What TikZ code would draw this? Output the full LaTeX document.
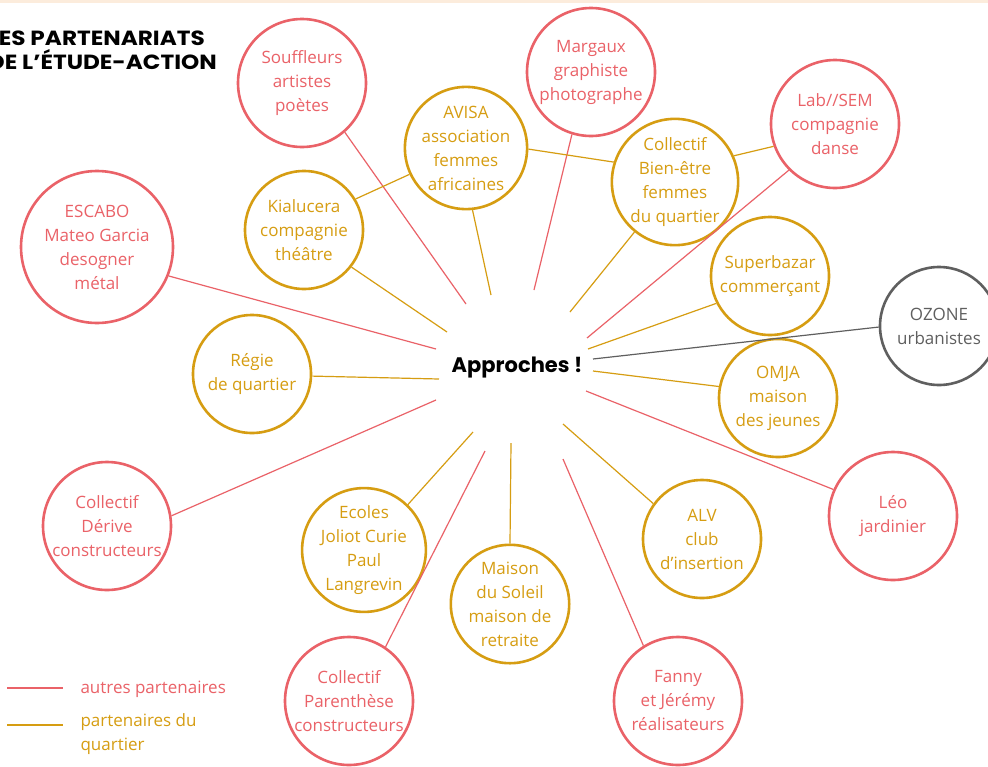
\documentclass[tikz,border=0pt]{standalone}
\usepackage{fontspec}
\setmainfont{Open Sans}
\newfontfamily\headfont{Poppins}
\newfontfamily\titlefont[FakeStretch=1.13]{Poppins}
\definecolor{cred}{RGB}{234,98,104}
\definecolor{cgold}{RGB}{214,157,18}
\definecolor{cgray}{RGB}{95,95,95}
\definecolor{cbeige}{RGB}{252,236,220}
\tikzset{
  partner/.style={circle, draw, line width=2.6pt, inner sep=0pt, align=center,
    font=\fontsize{17}{24}\selectfont},
  autre/.style={partner, draw=cred, text=cred, minimum size=128pt},
  quartier/.style={partner, draw=cgold, text=cgold, minimum size=118pt},
  externe/.style={partner, draw=cgray, text=cgray, minimum size=118pt},
  redlink/.style={draw=cred, line width=1.2pt},
  goldlink/.style={draw=cgold, line width=1.2pt},
  graylink/.style={draw=cgray, line width=1.2pt},
  legendtext/.style={anchor=west, align=left, font=\fontsize{17}{24}\selectfont},
  titletext/.style={anchor=base east, inner sep=0pt, font=\titlefont\bfseries\fontsize{20.5}{24}\selectfont},
}
\begin{document}
\begin{tikzpicture}[x=1pt,y=-1pt]
\useasboundingbox (0,0) rectangle (988,766);
\clip (0,0) rectangle (988,766);
\fill[white] (0,0) rectangle (988,766);
\fill[cbeige] (0,0) rectangle (988,2.5);

% title
\node[titletext] (title1) at (205,45) {LES PARTENARIATS};
\node[titletext] (title2) at (217,69) {DE L’ÉTUDE-ACTION};

% centre
\node[font=\headfont\bfseries\fontsize{21}{24}\selectfont] (centre) at (517,368) {Approches !};

% partners
\node[autre] (souf) at (302,83) {Souffleurs\\artistes\\poètes};
\node[autre] (marg) at (591,72) {Margaux\\graphiste\\photographe};
\node[quartier] (avisa) at (466,148) {AVISA\\association\\femmes\\africaines};
\node[quartier] (kial) at (304,230) {Kialucera\\compagnie\\théâtre};
\node[quartier] (bien) at (675,182) {Collectif\\Bien-être\\femmes\\du quartier};
\node[autre] (lab) at (835,124) {Lab//SEM\\compagnie\\danse};
\node[autre, minimum size=152pt] (escabo) at (97,247) {ESCABO\\Mateo Garcia\\desogner\\métal};
\node[quartier] (super) at (770,276) {Superbazar\\commerçant};
\node[externe] (ozone) at (939,326) {OZONE\\urbanistes};
\node[quartier] (regie) at (252,374) {Régie\\de quartier};
\node[quartier] (omja) at (778,398) {OMJA\\maison\\des jeunes};
\node[autre] (derive) at (107,526) {Collectif\\Dérive\\constructeurs};
\node[autre] (leo) at (893,516) {Léo\\jardinier};
\node[quartier] (ecoles) at (364,550) {Ecoles\\Joliot Curie\\Paul\\Langrevin};
\node[quartier] (alv) at (702,539) {ALV\\club\\d’insertion};
\node[quartier] (maison) at (510,604) {Maison\\du Soleil\\maison de\\retraite};
\node[autre] (paren) at (349,701) {Collectif\\Parenthèse\\constructeurs};
\node[autre] (fanny) at (678,701) {Fanny\\et Jérémy\\réalisateurs};

% inner ends of the rays around the centre
\coordinate (pSouf) at (466,304);
\coordinate (pAvisa) at (491,295);
\coordinate (pMarg) at (534,290);
\coordinate (pBien) at (570,312);
\coordinate (pLab) at (587,338);
\coordinate (pSuper) at (588,349);
\coordinate (pOzone) at (593,359);
\coordinate (pOmja) at (593,371);
\coordinate (pLeo) at (586,391);
\coordinate (pAlv) at (563,424);
\coordinate (pFanny) at (563,459);
\coordinate (pMaison) at (511,443);
\coordinate (pParen) at (485,451);
\coordinate (pEcoles) at (473,432);
\coordinate (pDerive) at (436,400);
\coordinate (pRegie) at (439,379);
\coordinate (pEscabo) at (436,349);
\coordinate (pKial) at (447,332);

% rays
\draw[redlink] (pSouf) -- (souf.-49);
\draw[goldlink] (pAvisa) -- (avisa.-84);
\draw[redlink] (pMarg) -- (marg.-107);
\draw[goldlink] (pBien) -- (bien.-129);
\draw[redlink] (pLab) -- (lab.-135);
\draw[goldlink] (pSuper) -- (super.-153);
\draw[graylink] (pOzone) -- (ozone.-179);
\draw[goldlink] (pOmja) -- (omja.169);
\draw[redlink] (pLeo) -- (leo.156);
\draw[goldlink] (pAlv) -- (alv.144);
\draw[redlink] (pFanny) -- (fanny.122);
\draw[goldlink] (pMaison) -- (maison.90);
\draw[redlink] (pParen) -- (paren.56);
\draw[goldlink] (pEcoles) -- (ecoles.46);
\draw[redlink] (pDerive) -- (derive.9);
\draw[goldlink] (pRegie) -- (regie.-2);
\draw[redlink] (pEscabo) -- (escabo.-22);
\draw[goldlink] (pKial) -- (kial.-38);

% links between partners
\draw[goldlink] (kial.31) -- (avisa.205);
\draw[goldlink] (avisa.-1) -- (bien.162);
\draw[goldlink] (bien.24) -- (lab.200);

% legend
\coordinate (l1a) at (7,688);
\coordinate (l1b) at (63,688);
\coordinate (l2a) at (7,725);
\coordinate (l2b) at (63,725);
\draw[draw=cred, line width=2.6pt] (l1a) -- (l1b);
\draw[draw=cgold, line width=2.6pt] (l2a) -- (l2b);
\node[legendtext, text=cred] (leg1) at (77,689) {autres partenaires};
\node[legendtext, text=cgold] (leg2) at (77,734) {partenaires du\\quartier};
\end{tikzpicture}
\end{document}
